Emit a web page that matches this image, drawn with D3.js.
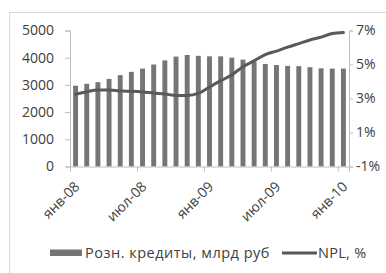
<!DOCTYPE html>
<html>
<head>
<meta charset="utf-8">
<script src="https://cdn.jsdelivr.net/npm/d3@7"></script>
<style>
  body { margin: 0; background: #fff; }
  text { font-family: "Open Sans", sans-serif; fill: #404040; }
</style>
</head>
<body>
<div id="chart"></div>
<script>
// Data
var months = ["янв-08","фев-08","мар-08","апр-08","май-08","июн-08","июл-08","авг-08","сен-08","окт-08","ноя-08","дек-08",
              "янв-09","фев-09","мар-09","апр-09","май-09","июн-09","июл-09","авг-09","сен-09","окт-09","ноя-09","дек-09","янв-10"];
var loans = [2970, 3040, 3100, 3220, 3360, 3480, 3600, 3750, 3900, 4040, 4100, 4070,
             4050, 4050, 4000, 3930, 3860, 3770, 3730, 3700, 3690, 3650, 3610, 3600, 3600];
var npl = [3.25, 3.4, 3.5, 3.5, 3.45, 3.42, 3.38, 3.32, 3.27, 3.18, 3.18, 3.3,
           3.68, 4.04, 4.39, 4.87, 5.22, 5.58, 5.79, 6.02, 6.23, 6.44, 6.61, 6.82, 6.88];
var leftTicks = [0, 1000, 2000, 3000, 4000, 5000];
var rightTicks = [-1, 1, 3, 5, 7];
var xTickIdx = [0, 6, 12, 18, 24];
var legendLabels = ["Розн. кредиты, млрд руб", "NPL, %"];

var W = 386, H = 273;
var x0 = 70, x1 = 349, yTop = 30.5, yBot = 166.5;

var svg = d3.select("#chart").append("svg")
    .attr("width", W)
    .attr("height", H);

// chart frame (only top and left edges are visible)
svg.append("path")
    .attr("d", "M9.5," + H + "V12.5H" + W)
    .attr("fill", "none")
    .attr("stroke", "#d9d9d9");

var x = d3.scaleBand()
    .domain(months)
    .range([x0, x1])
    .paddingInner(0.56)
    .paddingOuter(0.28);

var xEdge = d3.scaleLinear().domain([0, months.length]).range([x0, x1]);

var yL = d3.scaleLinear().domain([0, 5000]).range([yBot, yTop]);
var yR = d3.scaleLinear().domain([-1, 7]).range([yBot, yTop]);

// bars
svg.selectAll(".bar")
    .data(loans)
    .enter().append("rect")
    .attr("class", "bar")
    .attr("x", function (d, i) { return x(months[i]); })
    .attr("y", function (d) { return yL(d); })
    .attr("width", x.bandwidth())
    .attr("height", function (d) { return yBot - yL(d); })
    .attr("fill", "#757575");

// left axis
var gL = svg.append("g")
    .attr("transform", "translate(" + x0 + ",0)")
    .call(d3.axisLeft(yL).tickValues(leftTicks).tickSize(5).tickPadding(11)
        .tickFormat(d3.format("d")));

// right axis
var gR = svg.append("g")
    .attr("transform", "translate(" + x1 + ",0)")
    .call(d3.axisRight(yR).tickValues(rightTicks).tickSize(4).tickPadding(3)
        .tickFormat(function (d) { return d + "%"; }));

// x axis
var gX = svg.append("g")
    .attr("transform", "translate(0," + yBot + ")")
    .call(d3.axisBottom(xEdge).tickValues(xTickIdx).tickSize(5)
        .tickFormat(function (i) { return months[i]; }));

[gL, gR, gX].forEach(function (g) {
    g.selectAll(".domain").attr("stroke", "#bfbfbf");
    g.selectAll(".tick line").attr("stroke", "#bfbfbf");
    g.selectAll("text").style("font-size", "14px").style("fill", "#404040");
});

gX.selectAll("text")
    .attr("x", 0)
    .attr("y", 0)
    .attr("dy", 0)
    .attr("text-anchor", "end")
    .attr("transform", "translate(10,21) rotate(-45)");

// NPL line
var line = d3.line()
    .x(function (d, i) { return x(months[i]) + x.bandwidth() / 2; })
    .y(function (d) { return yR(d); })
    .curve(d3.curveMonotoneX);

svg.append("path")
    .datum(npl)
    .attr("d", line)
    .attr("fill", "none")
    .attr("stroke", "#595959")
    .attr("stroke-width", 3)
    .attr("stroke-linecap", "round");

// legend
var lg = svg.append("g").attr("transform", "translate(0,253)");
lg.append("rect")
    .attr("x", 50).attr("y", -3.5)
    .attr("width", 32).attr("height", 6.5)
    .attr("fill", "#757575");
lg.append("text")
    .attr("x", 85).attr("y", 0).attr("dy", "0.35em")
    .style("font-size", "14.5px")
    .style("letter-spacing", "0.5px")
    .text(legendLabels[0]);
lg.append("line")
    .attr("x1", 282).attr("x2", 317)
    .attr("y1", 0).attr("y2", 0)
    .attr("stroke", "#595959")
    .attr("stroke-width", 3);
lg.append("text")
    .attr("x", 318).attr("y", 0).attr("dy", "0.35em")
    .style("font-size", "14.5px")
    .style("letter-spacing", "0.3px")
    .text(legendLabels[1]);
</script>
</body>
</html>
